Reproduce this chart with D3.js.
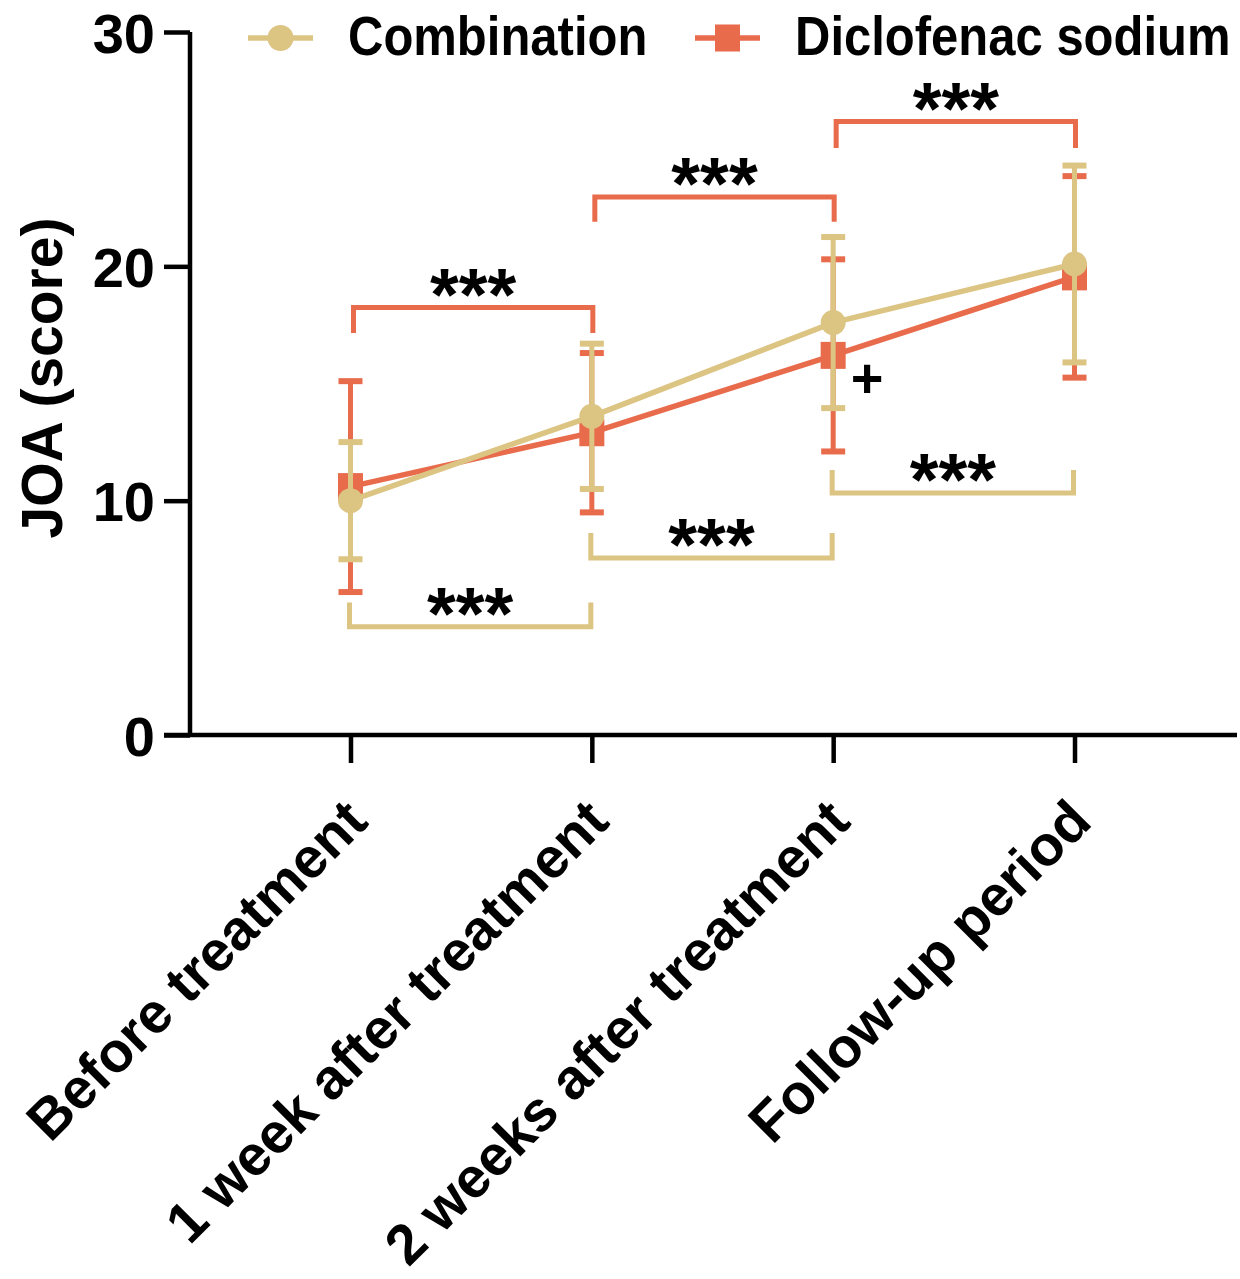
<!DOCTYPE html>
<html>
<head>
<meta charset="utf-8">
<script src="https://cdn.jsdelivr.net/npm/d3@7"></script>
<style>
  html, body { margin: 0; padding: 0; background: #fff; }
  svg { display: block; }
  text { font-family: "Liberation Sans", Arial, Helvetica, sans-serif; font-weight: bold; fill: #000; }
</style>
</head>
<body>
<svg id="chart" width="1240" height="1279"></svg>
<script>
// ---- Data ----
const categories = ["Before treatment", "1 week after treatment", "2 weeks after treatment", "Follow-up period"];
const seriesNames = ["Combination", "Diclofenac sodium"];
const combinationMean = [10.0, 13.6, 17.6, 20.1];
const combinationSD   = [2.5, 3.1, 3.65, 4.2];
const diclofenacMean  = [10.6, 12.9, 16.2, 19.55];
const diclofenacSD    = [4.5, 3.4, 4.1, 4.3];
const yTicks = [0, 10, 20, 30];
const yLabel = "JOA (score)";
// significance brackets (between consecutive time points)
const diclofenacBrackets = [
  {from: 0, to: 1, y: 18.24, leg: 17.16, label: "***"},
  {from: 1, to: 2, y: 22.96, leg: 21.9,  label: "***"},
  {from: 2, to: 3, y: 26.18, leg: 25.05, label: "***"}
];
const combinationBrackets = [
  {from: 0, to: 1, y: 4.62,  leg: 5.65,  label: "***"},
  {from: 1, to: 2, y: 7.55,  leg: 8.62,  label: "***"},
  {from: 2, to: 3, y: 10.33, leg: 11.31, label: "***"}
];
const betweenGroupMarks = [{index: 2, label: "+"}];

// ---- Styles ----
const TAN = "#DCC483";
const ORANGE = "#E86B4C";

const svg = d3.select("#chart");

const x = d3.scalePoint().domain(categories).range([190, 1235]).padding(0.665);
const y = d3.scaleLinear().domain([0, 30]).range([735, 32]);

// ---- Axes ----
const axisG = svg.append("g");
// y axis
const yAxis = d3.axisLeft(y).tickValues(yTicks).tickSize(26).tickPadding(10).tickFormat(d3.format("d"));
const gy = axisG.append("g").attr("transform", "translate(190,0)").call(yAxis);
gy.select(".domain").attr("stroke", "#000").attr("stroke-width", 4.5).attr("d", `M0,${y(30)}V${y(0)}`);
gy.selectAll(".tick line").attr("stroke", "#000").attr("stroke-width", 4.5);
gy.selectAll(".tick text").remove();
gy.selectAll(".tick").append("text")
  .attr("text-anchor", "end")
  .attr("font-size", 56)
  .attr("transform", `translate(-35,${0.358*56})`)
  .text(d => d);

// x axis
const xAxis = d3.axisBottom(x).tickSize(28).tickFormat("");
const gx = axisG.append("g").attr("transform", `translate(0,${y(0)})`).call(xAxis);
gx.select(".domain").attr("stroke", "#000").attr("stroke-width", 4.5).attr("d", "M164,0H1237");
gx.selectAll(".tick line").attr("stroke", "#000").attr("stroke-width", 4.5);
gx.selectAll(".tick text").remove();
gx.selectAll(".tick").append("text")
  .attr("text-anchor", "end")
  .attr("font-size", 56.5)
  .attr("transform", `translate(19,89) rotate(-45)`)
  .text(d => d);

// y label
svg.append("text")
  .attr("text-anchor", "middle")
  .attr("font-size", 57)
  .attr("transform", `translate(62,378) rotate(-90)`)
  .text(yLabel);

// ---- Brackets ----
function drawBrackets(list, color, xOff0, xOff1) {
  const g = svg.append("g");
  list.forEach(b => {
    const x0 = x(categories[b.from]) + xOff0;
    const x1 = x(categories[b.to]) + xOff1;
    g.append("path")
      .attr("d", `M${x0},${y(b.leg)}V${y(b.y)}H${x1}V${y(b.leg)}`)
      .attr("fill", "none").attr("stroke", color).attr("stroke-width", 5)
      .attr("stroke-linejoin", "miter");
    g.append("text")
      .attr("text-anchor", "middle")
      .attr("font-size", 74)
      .attr("transform", `translate(${(x0 + x1) / 2},${y(b.y) + 12})`)
      .text(b.label);
  });
}
drawBrackets(diclofenacBrackets, ORANGE, 3, 1);
drawBrackets(combinationBrackets, TAN, -1, -1);

// ---- Series ----
function drawSeries(mean, sd, color, marker) {
  const g = svg.append("g");
  const pts = categories.map((c, i) => ({c, m: mean[i], s: sd[i]}));
  // error bars
  pts.forEach(p => {
    const cx = x(p.c);
    g.append("line").attr("x1", cx).attr("x2", cx).attr("y1", y(p.m + p.s)).attr("y2", y(p.m - p.s))
      .attr("stroke", color).attr("stroke-width", 5);
    [p.m + p.s, p.m - p.s].forEach(v => {
      g.append("line").attr("x1", cx - 12).attr("x2", cx + 12).attr("y1", y(v)).attr("y2", y(v))
        .attr("stroke", color).attr("stroke-width", 6);
    });
  });
  // line
  g.append("path")
    .datum(pts)
    .attr("d", d3.line().x(p => x(p.c)).y(p => y(p.m)))
    .attr("fill", "none").attr("stroke", color).attr("stroke-width", 5.5);
  // markers
  pts.forEach(p => {
    const cx = x(p.c), cy = y(p.m);
    if (marker === "circle") {
      g.append("circle").attr("cx", cx).attr("cy", cy).attr("r", 12.5).attr("fill", color);
    } else {
      g.append("rect").attr("x", cx - 12.5).attr("y", cy - 13.5).attr("width", 25).attr("height", 27).attr("fill", color);
    }
  });
  return g;
}
drawSeries(diclofenacMean, diclofenacSD, ORANGE, "square");
drawSeries(combinationMean, combinationSD, TAN, "circle");

// between-group mark
betweenGroupMarks.forEach(b => {
  svg.append("text")
    .attr("font-size", 56)
    .attr("text-anchor", "middle")
    .attr("transform", `translate(${x(categories[b.index]) + 34},${y(diclofenacMean[b.index]) + 42})`)
    .text(b.label);
});

// ---- Legend ----
const legend = svg.append("g");
const legendItems = [
  {name: seriesNames[0], color: TAN, marker: "circle", x0: 248},
  {name: seriesNames[1], color: ORANGE, marker: "square", x0: 695}
];
legendItems.forEach(it => {
  const ly = 38;
  legend.append("line").attr("x1", it.x0).attr("x2", it.x0 + 65).attr("y1", ly).attr("y2", ly)
    .attr("stroke", it.color).attr("stroke-width", 5.5);
  if (it.marker === "circle") {
    legend.append("circle").attr("cx", it.x0 + 32.5).attr("cy", ly).attr("r", 13).attr("fill", it.color);
  } else {
    legend.append("rect").attr("x", it.x0 + 20).attr("y", ly - 13.5).attr("width", 25).attr("height", 27).attr("fill", it.color);
  }
  legend.append("text")
    .attr("font-size", 49)
    .attr("transform", `translate(${it.x0 + 100},55) scale(1,1.12)`)
    .text(it.name);
});
</script>
</body>
</html>
